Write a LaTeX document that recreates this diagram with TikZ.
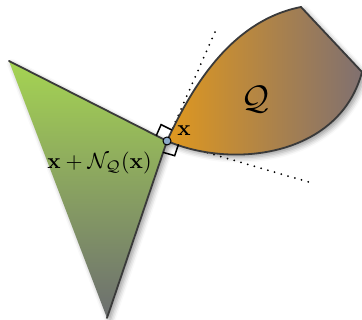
\documentclass[tikz,border=0pt]{standalone}
\usepackage{amsmath,amssymb}
\usepackage{xcolor}
\usepackage{tikz}
\usetikzlibrary{calc, shadows.blur}
\definecolor{conegreen}{RGB}{165,212,82}
\definecolor{conegray}{RGB}{108,110,112}
\definecolor{setorange}{RGB}{224,152,30}
\definecolor{setgray}{RGB}{128,112,112}
\definecolor{edgegray}{RGB}{58,58,58}
\definecolor{pointblue}{RGB}{140,170,200}
\begin{document}
\begin{tikzpicture}[x=1pt,y=-1pt]
\useasboundingbox (0,0) rectangle (362,320);
\coordinate (x) at (167,141);
\coordinate (tl) at (9,61);
\coordinate (bt) at (107,318);
\coordinate (qt) at (301,7);
\coordinate (qr) at (362,72);
\coordinate (t1) at (215,32);
\coordinate (t2) at (312,183);
\coordinate (a1) at ($(x)!12pt!(tl)$);
\coordinate (a2) at ($(x)!12pt!(t1)$);
\coordinate (b1) at ($(x)!12pt!(bt)$);
\coordinate (b2) at ($(x)!12pt!(t2)$);
\shade[top color=conegreen, bottom color=conegray, blur shadow={shadow xshift=3pt, shadow yshift=-3pt, shadow blur radius=5pt, shadow opacity=40}] (tl) -- (x) -- (bt) -- cycle;
\draw[edgegray, line width=1.8pt, line cap=round] (tl) -- (x) -- (bt);
\draw[line width=2pt, line cap=round, dash pattern=on 0pt off 7pt] (x) -- (t1);
\draw[line width=2pt, line cap=round, dash pattern=on 0pt off 7pt] (x) -- (t2);
\shadedraw[draw=edgegray, line width=1.8pt, left color=setorange, right color=setgray, blur shadow={shadow xshift=3pt, shadow yshift=-3pt, shadow blur radius=5pt, shadow opacity=40}] (x) .. controls (195,80) and (235,20) .. (qt) -- (qr) .. controls (340,155) and (235,170) .. (x) -- cycle;
\draw[line width=1.5pt] (a1) -- ($(a1)+(a2)-(x)$) -- (a2);
\draw[line width=1.5pt] (b1) -- ($(b1)+(b2)-(x)$) -- (b2);
\node[circle, fill=pointblue, draw, line width=1pt, inner sep=0pt, minimum size=8pt] (pt) at (x) {};
\node[scale=2.2] (xlab) at (184,131) {$\mathbf{x}$};
\node[scale=2.2] (cone) at (99.5,163) {$\mathbf{x}+\mathcal{N}_{\mathcal{Q}}(\mathbf{x})$};
\node[scale=3.4] (qlab) at (255,100) {$\mathcal{Q}$};
\end{tikzpicture}
\end{document}
